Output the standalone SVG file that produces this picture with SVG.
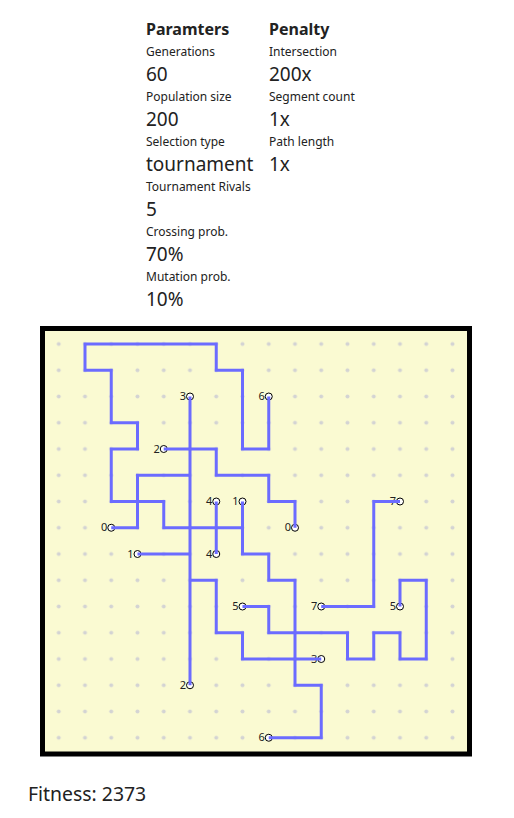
<svg xmlns="http://www.w3.org/2000/svg" width="514" height="818" viewBox="0 0 514 818">
  <style>
    text { font-family: "Segoe UI", "Noto Sans", "Open Sans", sans-serif; fill: #222; }
    .hd { font-size: 16px; font-weight: bold; }
    .lb { font-size: 12px; }
    .val { font-size: 19px; }
    .fit { font-size: 19.4px; }
    .wire { fill: none; stroke: #6b6bff; stroke-width: 3; stroke-linejoin: miter; }
    .pin circle { fill: #fff; stroke: #000; stroke-width: 1; }
    .pin text { font-size: 11px; text-anchor: end; }
  </style>
  <defs>
    <pattern id="dots" patternUnits="userSpaceOnUse" x="45.625" y="330.875" width="26.25" height="26.25">
      <circle cx="13.125" cy="13.125" r="2" fill="#d3d3d3"/>
    </pattern>
  </defs>

  <g id="parameters">
    <text class="hd" x="146" y="35">Paramters</text>
    <text class="lb" x="146" y="56">Generations</text>
    <text class="val" x="146" y="81">60</text>
    <text class="lb" x="146" y="101">Population size</text>
    <text class="val" x="146" y="126">200</text>
    <text class="lb" x="146" y="146">Selection type</text>
    <text class="val" x="146" y="171">tournament</text>
    <text class="lb" x="146" y="191">Tournament Rivals</text>
    <text class="val" x="146" y="216">5</text>
    <text class="lb" x="146" y="236">Crossing prob.</text>
    <text class="val" x="146" y="261">70%</text>
    <text class="lb" x="146" y="281">Mutation prob.</text>
    <text class="val" x="146" y="306">10%</text>
  </g>
  <g id="penalty">
    <text class="hd" x="269" y="35">Penalty</text>
    <text class="lb" x="269" y="56">Intersection</text>
    <text class="val" x="269" y="81">200x</text>
    <text class="lb" x="269" y="101">Segment count</text>
    <text class="val" x="269" y="126">1x</text>
    <text class="lb" x="269" y="146">Path length</text>
    <text class="val" x="269" y="171">1x</text>
  </g>

  <g id="board">
    <rect x="42.5" y="328.5" width="427" height="425.5" fill="#fafad2" stroke="#000" stroke-width="5"/>
    <rect x="45.625" y="330.875" width="420" height="420" fill="url(#dots)"/>
  </g>

  <g id="pins">
    <g id="pin-3a" class="pin"><circle cx="190" cy="396.5" r="3.5"/><text x="186" y="400">3</text></g>
    <g id="pin-6a" class="pin"><circle cx="268.75" cy="396.5" r="3.5"/><text x="264.75" y="400">6</text></g>
    <g id="pin-2a" class="pin"><circle cx="163.75" cy="449" r="3.5"/><text x="159.75" y="452.5">2</text></g>
    <g id="pin-4a" class="pin"><circle cx="216.25" cy="501.5" r="3.5"/><text x="212.25" y="505">4</text></g>
    <g id="pin-1a" class="pin"><circle cx="242.5" cy="501.5" r="3.5"/><text x="238.5" y="505">1</text></g>
    <g id="pin-0a" class="pin"><circle cx="111.25" cy="527.75" r="3.5"/><text x="107.25" y="531.25">0</text></g>
    <g id="pin-0b" class="pin"><circle cx="295" cy="527.75" r="3.5"/><text x="291" y="531.25">0</text></g>
    <g id="pin-7a" class="pin"><circle cx="400" cy="501.5" r="3.5"/><text x="396" y="505">7</text></g>
    <g id="pin-1b" class="pin"><circle cx="137.5" cy="554" r="3.5"/><text x="133.5" y="557.5">1</text></g>
    <g id="pin-4b" class="pin"><circle cx="216.25" cy="554" r="3.5"/><text x="212.25" y="557.5">4</text></g>
    <g id="pin-5a" class="pin"><circle cx="242.5" cy="606.5" r="3.5"/><text x="238.5" y="610">5</text></g>
    <g id="pin-7b" class="pin"><circle cx="321.25" cy="606.5" r="3.5"/><text x="317.25" y="610">7</text></g>
    <g id="pin-5b" class="pin"><circle cx="400" cy="606.5" r="3.5"/><text x="396" y="610">5</text></g>
    <g id="pin-3b" class="pin"><circle cx="321.25" cy="659" r="3.5"/><text x="317.25" y="662.5">3</text></g>
    <g id="pin-2b" class="pin"><circle cx="190" cy="685.25" r="3.5"/><text x="186" y="688.75">2</text></g>
    <g id="pin-6b" class="pin"><circle cx="268.75" cy="737.75" r="3.5"/><text x="264.75" y="741.25">6</text></g>
  </g>

  <g id="connectors">
    <polyline class="wire" points="268.75,396.5 268.75,449 242.5,449 242.5,370.25 216.25,370.25 216.25,344 85,344 85,370.25 111.25,370.25 111.25,422.75 137.5,422.75 137.5,449 111.25,449 111.25,501.5 163.75,501.5 163.75,527.75 242.5,527.75"/>
    <polyline class="wire" points="190,396.5 190,685.25"/>
    <polyline class="wire" points="163.75,449 216.25,449 216.25,475.25 268.75,475.25 268.75,501.5 295,501.5 295,527.75"/>
    <polyline class="wire" points="111.25,527.75 137.5,527.75 137.5,475.25 190,475.25"/>
    <polyline class="wire" points="216.25,501.5 216.25,554"/>
    <polyline class="wire" points="242.5,501.5 242.5,554 268.75,554 268.75,580.25 295,580.25 295,685.25 321.25,685.25 321.25,737.75 268.75,737.75"/>
    <polyline class="wire" points="137.5,554 190,554"/>
    <polyline class="wire" points="190,580.25 216.25,580.25 216.25,632.75 242.5,632.75 242.5,659 321.25,659"/>
    <polyline class="wire" points="242.5,606.5 268.75,606.5 268.75,632.75 347.5,632.75 347.5,659 373.75,659 373.75,632.75 400,632.75 400,659 426.25,659 426.25,580.25 400,580.25 400,606.5"/>
    <polyline class="wire" points="400,501.5 373.75,501.5 373.75,606.5 321.25,606.5"/>
  </g>

  <g id="fitness">
    <text class="fit" x="28" y="801">Fitness: 2373</text>
  </g>
</svg>
